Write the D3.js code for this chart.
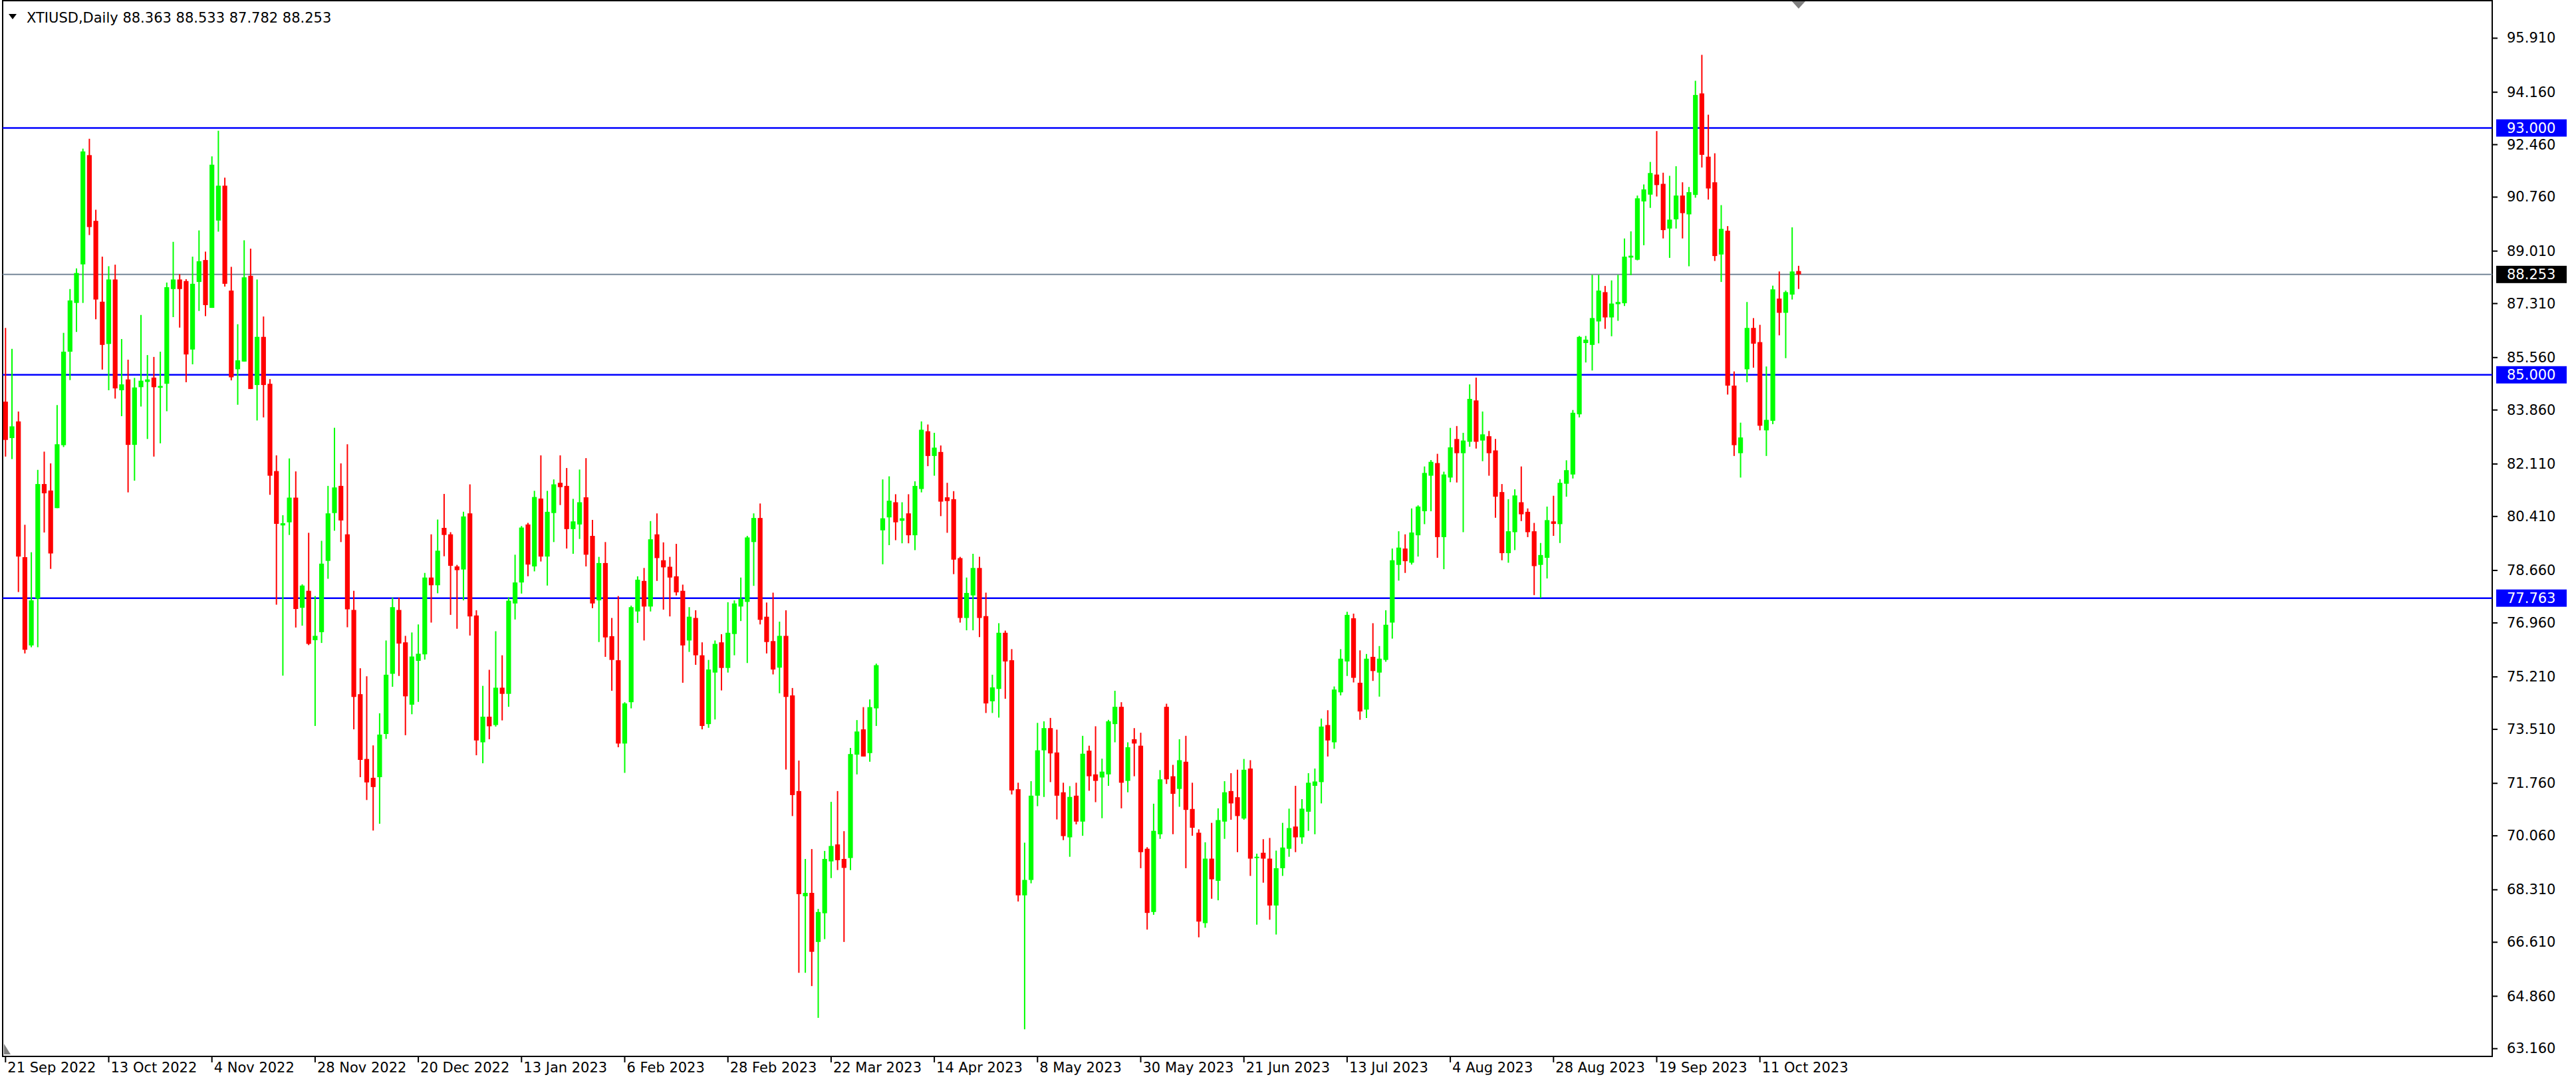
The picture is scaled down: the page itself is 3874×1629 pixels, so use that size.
<!DOCTYPE html>
<html><head><meta charset="utf-8">
<script src="https://cdn.jsdelivr.net/npm/d3@7"></script>
<style>html,body{margin:0;padding:0;background:#fff;overflow:hidden}</style>
</head><body>
<svg id="c" width="3874" height="1629"></svg>
<script>
const openV=[84.13,82.95,83.49,79.09,76.23,77.75,81.46,81.25,80.68,82.72,85.75,87.33,88.58,92.12,89.99,87.37,86.00,88.09,84.50,84.85,82.73,84.60,84.77,84.91,84.58,84.71,87.78,88.09,88.04,85.82,88.01,88.72,87.17,90.00,91.13,87.73,85.18,85.43,88.21,84.67,86.23,84.71,81.88,80.12,80.22,81.02,77.45,78.00,76.40,76.66,78.97,80.52,81.40,79.83,77.38,74.65,72.55,71.94,71.96,73.36,75.31,77.38,76.33,74.31,75.73,75.94,78.43,78.18,80.04,79.83,78.79,78.69,80.51,77.20,73.09,73.92,73.65,74.86,74.66,77.59,78.27,80.15,78.79,80.99,79.11,80.52,81.50,81.40,80.00,80.15,81.03,79.78,77.69,78.90,76.53,75.75,73.05,74.39,77.33,78.32,77.49,79.83,78.99,78.78,78.47,78.00,76.39,77.12,75.91,73.68,75.35,76.33,75.50,76.60,77.49,77.64,79.58,80.36,77.16,76.37,75.51,76.54,74.61,71.51,68.10,68.21,66.62,67.55,69.23,69.78,69.31,69.34,72.69,73.51,72.74,74.19,79.96,80.38,80.87,80.27,80.51,79.80,81.30,83.17,82.37,82.50,81.03,80.97,79.06,77.12,77.85,78.74,77.18,74.42,74.82,76.64,75.75,71.57,68.13,68.63,71.36,72.83,73.55,72.76,71.47,70.01,71.36,70.52,72.82,72.05,71.95,72.05,73.68,74.24,71.84,73.19,72.98,69.64,67.59,70.11,74.24,71.99,71.58,72.46,70.93,70.16,67.23,69.32,68.60,70.52,71.51,71.31,70.62,72.24,69.34,69.51,69.32,67.80,69.01,69.64,70.36,70.01,70.84,71.68,71.80,73.65,73.09,74.71,75.71,77.11,75.02,74.15,75.86,75.35,75.76,76.97,78.84,79.37,78.91,79.80,80.58,81.73,82.14,79.74,81.67,82.92,82.46,82.83,84.17,82.87,83.01,82.55,81.20,79.22,79.90,80.87,80.56,79.93,78.84,79.07,80.25,80.16,81.47,81.77,83.72,86.03,85.97,86.73,87.68,86.86,87.29,87.32,88.80,88.73,90.62,90.84,91.49,91.19,89.74,90.04,90.81,90.20,90.83,94.12,92.07,91.24,88.90,89.67,84.65,82.46,85.18,86.52,86.06,83.20,83.51,87.47,87.01,87.60,88.363];
const highV=[86.52,85.84,83.81,80.14,79.25,81.92,82.51,82.13,84.02,86.36,87.78,88.45,92.33,92.65,90.35,88.83,88.52,88.57,86.16,85.49,84.90,86.94,85.64,85.58,85.75,87.99,89.31,88.26,88.10,88.83,89.68,88.99,92.08,92.91,91.39,88.50,86.64,89.36,89.09,88.09,86.89,84.86,82.39,80.45,82.29,81.87,78.21,79.88,77.83,79.62,81.40,83.28,82.13,82.75,78.00,75.49,75.23,72.99,74.03,76.39,77.78,77.78,76.54,76.65,76.91,78.58,79.83,80.31,81.14,79.90,78.84,80.56,81.45,77.37,74.92,75.44,76.69,75.91,77.79,79.17,80.10,80.20,81.24,82.39,81.24,81.61,82.39,81.98,80.98,81.93,82.30,80.30,79.10,79.58,77.12,77.83,74.39,77.52,78.47,78.74,80.26,80.51,79.57,79.10,79.52,78.20,77.47,77.37,76.33,75.76,76.39,76.59,77.63,77.69,78.43,79.78,80.51,80.83,77.62,77.94,77.00,77.37,74.85,72.50,69.31,69.63,67.69,69.57,71.16,71.51,70.21,72.91,73.81,74.23,74.48,75.64,81.61,81.71,81.13,80.87,81.13,81.55,83.49,83.39,83.12,82.71,81.50,81.23,79.10,78.43,79.20,79.10,77.94,75.28,76.95,76.71,76.11,71.78,69.84,71.83,73.72,73.77,73.88,73.50,71.78,71.67,71.78,73.30,72.98,73.61,72.56,73.82,74.76,74.39,73.09,73.55,73.40,69.69,71.10,72.19,74.34,72.36,73.19,73.30,71.78,70.27,69.85,70.48,70.95,71.83,72.09,72.20,72.55,72.51,69.48,69.95,69.99,69.58,70.48,70.94,71.68,71.25,72.09,72.24,73.86,74.13,74.90,76.11,77.32,77.26,76.07,75.95,76.95,76.21,77.37,79.37,79.93,79.83,80.67,80.77,82.03,82.24,82.44,81.86,83.28,83.34,83.12,84.69,84.91,83.81,83.18,82.92,81.46,80.97,81.29,82.03,80.67,80.20,79.55,80.73,81.08,81.62,82.23,83.86,86.26,86.26,88.24,88.24,87.88,88.06,88.24,89.42,89.65,90.81,91.17,91.90,92.90,91.55,91.45,91.76,91.24,91.09,94.53,95.37,93.43,92.18,90.50,89.82,85.11,83.45,87.36,86.84,86.62,85.27,87.89,88.35,87.73,89.78,88.533];
const lowV=[82.35,82.27,77.96,75.97,76.17,76.17,79.89,78.71,80.68,82.66,84.83,86.39,87.33,89.53,86.80,85.17,84.50,84.23,83.66,81.19,81.57,83.97,82.92,82.35,82.78,83.82,86.87,86.53,84.76,85.34,87.07,86.90,87.17,89.64,87.86,84.82,84.03,85.43,84.54,83.52,83.62,81.11,77.55,75.25,79.81,76.81,76.87,76.24,73.62,76.31,78.39,79.95,79.58,76.82,73.51,71.96,71.22,70.23,70.45,73.20,74.89,75.24,73.32,74.00,74.40,75.77,76.97,77.92,79.12,77.22,76.77,77.69,76.55,72.67,72.41,73.19,73.60,73.80,74.24,77.07,77.91,78.47,78.63,78.95,78.17,79.58,80.78,79.37,79.20,79.68,78.79,77.44,76.34,75.86,74.76,72.93,72.10,74.19,76.96,76.39,77.33,78.32,77.39,77.17,77.85,75.02,76.02,75.60,73.51,73.56,73.83,74.77,75.35,75.91,77.02,75.66,78.16,76.91,75.97,75.29,74.68,72.21,70.70,65.62,65.62,65.19,64.16,66.71,68.69,68.95,66.62,68.95,72.05,72.63,72.46,73.62,78.86,79.48,79.64,79.54,79.54,79.32,81.19,82.04,81.73,80.42,79.88,78.54,76.97,76.72,76.72,76.50,74.04,74.04,73.89,74.50,71.40,67.93,63.79,68.52,71.02,71.32,71.80,70.59,69.92,69.38,70.43,70.06,71.52,71.15,70.63,71.68,73.09,70.95,71.47,71.99,69.01,67.02,67.50,69.96,71.74,70.11,71.00,69.01,70.06,66.77,67.08,68.02,67.97,69.96,70.58,69.53,70.58,68.76,67.18,68.54,67.34,66.86,68.76,69.38,69.53,69.80,70.22,70.11,71.11,72.63,72.88,74.61,75.24,75.03,73.82,73.88,75.08,74.57,75.70,76.45,78.33,78.58,78.85,79.11,80.16,80.58,79.07,78.70,81.52,81.51,79.90,82.67,82.61,82.20,81.73,80.37,78.99,78.91,79.32,80.26,79.74,77.86,77.77,78.40,79.78,79.55,81.05,81.64,83.62,85.40,85.14,86.02,86.49,86.25,86.75,87.23,88.23,88.71,89.20,90.41,90.78,89.42,88.79,89.74,89.42,88.52,90.74,91.72,90.68,88.69,88.01,84.36,82.37,81.67,84.76,85.23,83.20,82.37,83.40,86.28,85.54,87.44,87.782];
const closeV=[82.89,83.33,79.11,76.09,77.69,81.46,81.16,79.21,82.75,85.75,87.41,88.30,92.24,89.79,87.44,85.97,88.09,84.56,84.69,82.73,84.59,84.81,84.85,84.60,84.64,87.84,88.09,87.78,85.66,87.95,88.68,87.26,91.81,91.13,87.95,84.92,85.47,88.16,84.54,86.23,84.67,81.73,80.17,80.19,81.02,77.41,78.17,76.28,76.54,78.88,80.51,81.35,80.28,77.40,74.56,72.52,71.79,71.64,73.34,75.28,77.47,76.29,74.58,75.87,75.96,78.43,78.18,79.30,79.81,78.81,78.67,80.41,77.17,73.15,73.92,73.61,74.86,74.66,77.68,78.27,80.05,78.85,81.04,79.11,80.56,81.45,81.36,80.00,80.25,80.87,79.17,77.59,78.90,76.49,75.76,73.05,74.35,77.47,78.36,77.49,79.67,79.06,78.76,78.43,77.95,76.23,77.16,75.91,73.62,75.45,76.28,75.50,76.64,77.59,77.74,79.73,80.36,77.06,76.34,75.45,76.54,74.56,71.38,68.17,68.21,66.30,67.59,69.31,69.73,69.27,69.02,72.71,73.44,72.63,74.23,75.59,80.35,80.92,80.22,80.35,79.80,81.40,83.22,82.37,82.64,80.89,80.91,79.01,77.12,77.93,78.74,77.12,74.35,74.87,76.64,75.71,71.53,68.13,68.63,71.36,72.83,73.55,72.73,71.36,70.05,71.32,70.52,72.72,71.99,71.84,72.14,73.77,74.24,71.78,72.93,73.05,69.53,67.56,70.22,71.89,71.89,71.42,72.51,70.90,70.32,67.28,69.32,68.65,70.57,71.47,71.11,70.70,72.20,69.32,69.38,69.32,67.80,69.01,69.68,70.31,70.01,70.94,71.78,71.82,73.60,73.15,74.80,75.80,77.22,75.18,74.09,75.80,75.40,75.80,76.90,78.99,79.40,78.96,79.89,80.73,81.82,82.18,79.74,81.77,82.65,82.46,82.87,84.22,82.83,83.07,82.46,81.05,79.22,79.93,81.09,80.48,79.90,78.80,79.16,80.29,80.17,81.50,81.91,83.77,86.23,86.14,86.84,87.73,86.86,87.31,87.36,88.83,88.86,90.72,91.01,91.54,91.15,89.69,90.03,90.81,90.24,90.92,94.07,92.13,91.04,88.85,89.73,84.65,82.72,82.97,86.52,86.01,83.35,83.54,87.77,87.01,87.68,88.35,88.253];
const priceTicks=[95.910,94.160,92.460,90.760,89.010,87.310,85.560,83.860,82.110,80.410,78.660,76.960,75.210,73.510,71.760,70.060,68.310,66.610,64.860,63.160];
const dateLabels=["21 Sep 2022","13 Oct 2022","4 Nov 2022","28 Nov 2022","20 Dec 2022","13 Jan 2023","6 Feb 2023","28 Feb 2023","22 Mar 2023","14 Apr 2023","8 May 2023","30 May 2023","21 Jun 2023","13 Jul 2023","4 Aug 2023","28 Aug 2023","19 Sep 2023","11 Oct 2023"];
const labelStep=16;
const levels=[93.000,85.000,77.763];
const bidPrice=88.253;
const title="XTIUSD,Daily  88.363 88.533 87.782 88.253";

const n=openV.length;
const svg=d3.select("#c");
const FONT="'DejaVu Sans', sans-serif";
const FS=21;
const L=4,T=1,R=3748,B=1589;
const x=d3.scaleLinear().domain([0,n-1]).range([8.3,8.3+9.7*(n-1)]);
const y=d3.scaleLinear().domain([63.16,95.91]).range([1577.4,57.45]);

svg.append("rect").attr("x",L).attr("y",T).attr("width",R-L).attr("height",B-T)
  .attr("fill","#fff").attr("stroke","#000").attr("stroke-width",2);

svg.selectAll("line.lvl").data(levels).enter().append("line").attr("class","lvl")
  .attr("x1",L).attr("x2",R).attr("y1",d=>y(d)).attr("y2",d=>y(d))
  .attr("stroke","#0000ff").attr("stroke-width",2.5);
svg.append("line").attr("x1",L).attr("x2",R).attr("y1",y(bidPrice)).attr("y2",y(bidPrice))
  .attr("stroke","#778899").attr("stroke-width",2);

const idx=d3.range(n);
const col=i=>closeV[i]>=openV[i]?"#00ff00":"#ff0000";
const g=svg.append("g");
g.selectAll("line.w").data(idx).enter().append("line")
  .attr("x1",i=>x(i)).attr("x2",i=>x(i)).attr("y1",i=>y(highV[i])).attr("y2",i=>y(lowV[i]))
  .attr("stroke",col).attr("stroke-width",2);
g.selectAll("rect.b").data(idx).enter().append("rect")
  .attr("x",i=>x(i)-3.6).attr("width",7.2)
  .attr("y",i=>y(Math.max(openV[i],closeV[i])))
  .attr("height",i=>Math.max(2,Math.abs(y(openV[i])-y(closeV[i]))))
  .attr("fill",col);

const ax=svg.append("g");
priceTicks.forEach(v=>{
  ax.append("line").attr("x1",R).attr("x2",R+8).attr("y1",y(v)).attr("y2",y(v)).attr("stroke","#000").attr("stroke-width",2);
  ax.append("text").attr("x",R+22).attr("y",y(v)).attr("dominant-baseline","central")
    .attr("font-family",FONT).attr("font-size",FS).attr("fill","#000").text(v.toFixed(3));
});
function tag(v,fill){
  ax.append("rect").attr("x",R+6).attr("y",y(v)-13).attr("width",106).attr("height",26).attr("fill",fill);
  ax.append("text").attr("x",R+22).attr("y",y(v)).attr("dominant-baseline","central")
    .attr("font-family",FONT).attr("font-size",FS).attr("fill","#fff").text(v.toFixed(3));
}
levels.forEach(v=>tag(v,"#0000ff"));
tag(bidPrice,"#000");

dateLabels.forEach((t,k)=>{
  const xi=x(k*labelStep);
  ax.append("line").attr("x1",xi).attr("x2",xi).attr("y1",B).attr("y2",B+9).attr("stroke","#000").attr("stroke-width",2);
  ax.append("text").attr("x",xi+3).attr("y",B+24).attr("font-family",FONT).attr("font-size",FS).attr("fill","#000").text(t);
});

svg.append("path").attr("d","M13,21 L25,21 L19,29 Z").attr("fill","#000");
svg.append("text").attr("x",40).attr("y",34).attr("font-family",FONT).attr("font-size",FS).attr("fill","#000").text(title);
const lx=x(n-1);
svg.append("path").attr("d",`M${lx-10},2 L${lx+10},2 L${lx},13 Z`).attr("fill","#808080");
svg.append("path").attr("d",`M6,1570 L6,1586 L16,1586 Z`).attr("fill","#808080");
</script>
</body></html>
